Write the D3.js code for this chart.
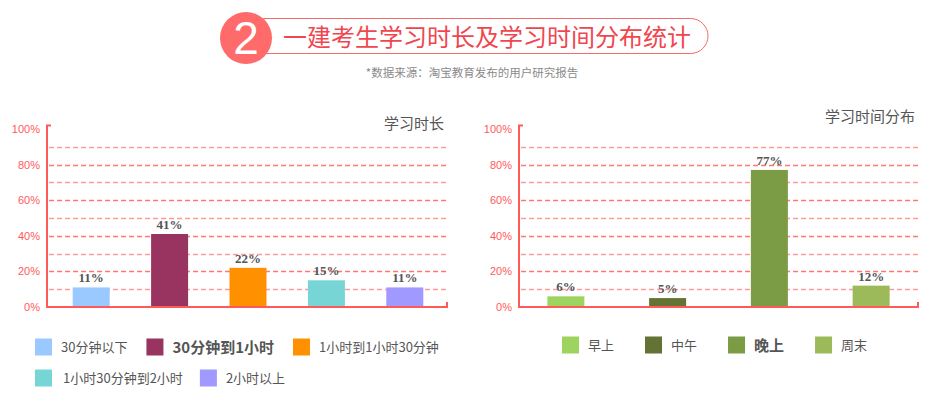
<!DOCTYPE html>
<html>
<head>
<meta charset="utf-8">
<script src="https://cdn.jsdelivr.net/npm/d3@7"></script>
<style>
  body { margin: 0; background: #fff; }
  svg { display: block; font-family: "Noto Sans CJK SC", "Noto Sans", sans-serif; }
</style>
</head>
<body>
<div id="chart"></div>
<script>
// ---------- data ----------
const durationCats = ["30分钟以下", "30分钟到1小时", "1小时到1小时30分钟", "1小时30分钟到2小时", "2小时以上"];
const durationVals = [11, 41, 22, 15, 11];
const durationColors = ["#99c9ff", "#993360", "#ff9000", "#77d5d5", "#a099ff"];

const periodCats = ["早上", "中午", "晚上", "周末"];
const periodVals = [6, 5, 77, 12];
const periodColors = ["#9cd45f", "#637333", "#7b9b45", "#9cba5a"];

const yTicks = [0, 20, 40, 60, 80, 100];
const gridTicks = [10, 20, 30, 40, 50, 60, 70, 80, 90];

const title = "一建考生学习时长及学习时间分布统计";
const source = "*数据来源：淘宝教育发布的用户研究报告";

const width = 935, height = 404;
const red = "#ff5a5a";

const svg = d3.select("#chart").append("svg")
  .attr("width", width).attr("height", height);

// ---------- header ----------
svg.append("rect")
  .attr("x", 246).attr("y", 18.5).attr("width", 462).attr("height", 35)
  .attr("rx", 17.5)
  .attr("fill", "#fff").attr("stroke", "#f26a6a").attr("stroke-width", 1);
svg.append("circle")
  .attr("cx", 246).attr("cy", 38).attr("r", 26)
  .attr("fill", "#ff6b6b");
svg.append("text")
  .attr("x", 246).attr("y", 54)
  .attr("text-anchor", "middle")
  .attr("fill", "#fff")
  .style("font-family", "'Liberation Sans', sans-serif")
  .style("font-size", "46px")
  .text("2");
svg.append("text")
  .attr("x", 283).attr("y", 46)
  .attr("fill", "#f0464f")
  .style("font-size", "24px")
  .text(title);
svg.append("text")
  .attr("x", 472).attr("y", 77)
  .attr("text-anchor", "middle")
  .attr("fill", "#8a8a8a")
  .style("font-size", "11.5px")
  .text(source);

// ---------- bar chart helper ----------
const drawBars = (cfg) => {
  const y = d3.scaleLinear().domain([0, 100]).range([307, 129]);
  const x = d3.scalePoint().domain(cfg.cats).range(cfg.xRange).padding(0.5);
  const g = svg.append("g");

  // dashed gridlines
  g.selectAll(".grid")
    .data(gridTicks)
    .join("line")
    .attr("x1", cfg.axisX + 2).attr("x2", cfg.rightX)
    .attr("y1", d => Math.round(y(d)) + 0.5).attr("y2", d => Math.round(y(d)) + 0.5)
    .attr("stroke", d => d % 20 === 0 ? "#f77" : "#ff9a9a")
    .attr("stroke-width", 1.3)
    .attr("stroke-dasharray", "5,3");

  // bars
  g.selectAll(".bar")
    .data(cfg.vals)
    .join("rect")
    .attr("x", (d, i) => x(cfg.cats[i]) - 18.5)
    .attr("width", 37)
    .attr("y", d => y(d))
    .attr("height", d => y(0) - y(d))
    .attr("fill", (d, i) => cfg.colors[i]);

  // value labels
  g.selectAll(".val")
    .data(cfg.vals)
    .join("text")
    .attr("x", (d, i) => x(cfg.cats[i]))
    .attr("y", d => y(d) - 5)
    .attr("text-anchor", "middle")
    .attr("fill", "#555")
    .style("font-family", "'Liberation Serif', serif")
    .style("font-weight", "bold")
    .style("font-size", "13px")
    .text(d => d + "%");

  // y axis labels
  const leftAxis = d3.axisLeft(y).tickValues(yTicks).tickSize(0).tickPadding(7)
    .tickFormat(d => d + "%");
  const ax = g.append("g")
    .attr("transform", `translate(${cfg.axisX},0)`)
    .call(leftAxis);
  ax.select(".domain").remove();
  ax.selectAll("text")
    .attr("fill", red)
    .style("font-family", "'Liberation Sans', sans-serif")
    .style("font-size", "11px");

  // axis frame with stubs
  g.append("path")
    .attr("d", `M${cfg.axisX + 4},${y(102)}H${cfg.axisX}V${y(0)}H${cfg.rightX}V${y(0) - 5}`)
    .attr("fill", "none")
    .attr("stroke", red)
    .attr("stroke-width", 2);

  // chart title
  g.append("text")
    .attr("x", cfg.rightX - 3).attr("y", cfg.titleY)
    .attr("text-anchor", "end")
    .attr("fill", "#555")
    .style("font-size", "15px")
    .text(cfg.title);
};

drawBars({
  cats: durationCats, vals: durationVals, colors: durationColors,
  xRange: [52, 444], axisX: 47, rightX: 447, titleY: 129, title: "学习时长"
});
drawBars({
  cats: periodCats, vals: periodVals, colors: periodColors,
  xRange: [515, 922], axisX: 519, rightX: 918, titleY: 122, title: "学习时间分布"
});

// ---------- legends ----------
const drawLegend = (cfg) => {
  let cx = cfg.x, cy = cfg.y;
  cfg.cats.forEach((c, i) => {
    const bold = i === cfg.boldIndex;
    const item = svg.append("g");
    item.append("rect")
      .attr("x", 0).attr("y", -8.5).attr("width", 17).attr("height", 17)
      .attr("fill", cfg.colors[i]);
    const t = item.append("text")
      .attr("x", 26).attr("y", bold ? 5.5 : 5)
      .attr("fill", "#555")
      .style("font-size", bold ? "15px" : "13px")
      .style("font-weight", bold ? "bold" : "normal")
      .text(c);
    const w = 26 + t.node().getComputedTextLength();
    if (cfg.wrap && cx + w > cfg.wrap) { cx = cfg.x; cy += 31; t.attr("x", 28); }
    item.attr("transform", `translate(${cx},${cy})`);
    cx += w + cfg.gap;
  });
};

drawLegend({ cats: durationCats, colors: durationColors, boldIndex: 1,
  x: 35, y: 347, gap: 19, wrap: 465 });
drawLegend({ cats: periodCats, colors: periodColors, boldIndex: 2,
  x: 562, y: 345, gap: 31 });
</script>
</body>
</html>
